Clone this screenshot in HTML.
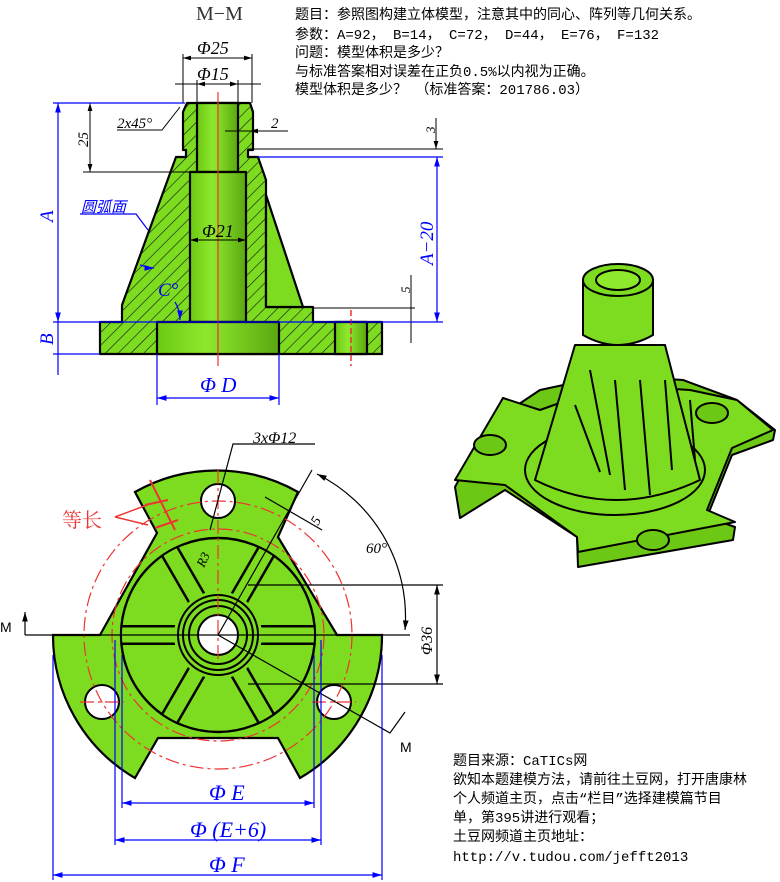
<!DOCTYPE html>
<html><head><meta charset="utf-8"><style>
html,body{margin:0;padding:0;background:#fff;width:780px;height:882px;overflow:hidden}
svg{display:block}
.t{font-family:"Liberation Mono","WenQuanYi Zen Hei","Noto Sans CJK SC",monospace;font-size:14px;fill:#000}
.d{font-family:"Liberation Serif",serif;font-style:italic}
</style></head><body>
<svg width="780" height="882" viewBox="0 0 780 882" xmlns="http://www.w3.org/2000/svg">
<defs>
<pattern id="h" width="9" height="9" patternUnits="userSpaceOnUse" patternTransform="rotate(45)">
<rect width="9" height="9" fill="#7ddc1f"/><line x1="0" y1="0" x2="0" y2="9" stroke="#111" stroke-width="1.2"/>
</pattern>
<linearGradient id="g" x1="0" x2="1"><stop offset="0" stop-color="#6cc814"/><stop offset=".4" stop-color="#8ee82c"/><stop offset="1" stop-color="#5aa810"/></linearGradient>
<marker id="a" viewBox="0 0 10 10" refX="10" refY="5" markerWidth="8" markerHeight="8" orient="auto-start-reverse"><path d="M0,2L10,5L0,8z" fill="#00f"/></marker>
<marker id="k" viewBox="0 0 10 10" refX="10" refY="5" markerWidth="8" markerHeight="8" orient="auto-start-reverse"><path d="M0,2L10,5L0,8z" fill="#000"/></marker>
<clipPath id="ic"><circle cx="218" cy="635" r="96"/></clipPath>
</defs>

<text class="t" x="295" y="19">题目：参照图构建立体模型，注意其中的同心、阵列等几何关系。</text>
<text class="t" x="295" y="39">参数：A=92， B=14， C=72， D=44， E=76， F=132</text>
<text class="t" x="295" y="57">问题：模型体积是多少？</text>
<text class="t" x="295" y="76">与标准答案相对误差在正负0.5%以内视为正确。</text>
<text class="t" x="295" y="94">模型体积是多少？ （标准答案：201786.03）</text>

<text x="196" y="20" font-family="Liberation Serif,serif" font-size="20" fill="#333">M−M</text>

<!-- Section view -->
<g stroke="#000" stroke-width="2.2" stroke-linejoin="round">
<path d="M187,103 L250,103 L253,112 L253,150 L248,150 L248,157 L258,157 L266,180 L266,307 L313,307 L313,322 L382,322 L382,354 L100,354 L100,322 L122,322 L122,305 L176,157 L186,157 L186,150 L183,150 L183,112 Z" fill="url(#h)"/>
<path d="M266,195 L303,307 L266,307 Z" fill="#7ddc1f"/>
<rect x="197" y="103" width="41" height="69" fill="url(#g)"/>
<rect x="190" y="172" width="56" height="150" fill="url(#g)"/>
<rect x="157" y="322" width="122" height="32" fill="url(#g)"/>
<rect x="335" y="322" width="32" height="32" fill="url(#g)"/>
</g>
<line x1="218" y1="92" x2="218" y2="366" stroke="#e33" stroke-width="1.2"/>
<line x1="351" y1="310" x2="351" y2="366" stroke="#e33" stroke-width="1.5" stroke-dasharray="6,3"/>
<g stroke="#000" stroke-width="1" fill="none">
<line x1="183" y1="54" x2="183" y2="103"/><line x1="252" y1="54" x2="252" y2="103"/>
<line x1="183" y1="58" x2="252" y2="58" marker-start="url(#k)" marker-end="url(#k)"/>
<line x1="175" y1="84" x2="261" y2="84"/>
<line x1="197" y1="80" x2="197" y2="103"/><line x1="238" y1="80" x2="238" y2="103"/>
<line x1="197" y1="84" x2="238" y2="84" marker-start="url(#k)" marker-end="url(#k)"/>
<line x1="83" y1="172" x2="190" y2="172"/>
<line x1="90" y1="103" x2="90" y2="172" marker-start="url(#k)" marker-end="url(#k)"/>
<path d="M117,130 L162,130 L180,107"/>
<line x1="225" y1="131" x2="288" y2="131"/><line x1="250" y1="131" x2="270" y2="131" marker-start="url(#k)"/>
<line x1="248" y1="149" x2="443" y2="149"/>
<line x1="436" y1="118" x2="436" y2="149" marker-end="url(#k)"/>
<line x1="313" y1="308" x2="415" y2="308"/>
<line x1="411" y1="275" x2="411" y2="343"/>
<line x1="190" y1="240" x2="246" y2="240" marker-start="url(#k)" marker-end="url(#k)"/>
</g>
<g class="d" font-size="18" fill="#000">
<text x="197" y="54">Φ25</text><text x="197" y="80">Φ15</text>
<text x="117" y="128" font-size="15">2x45°</text>
<text x="271" y="128" font-size="15">2</text>
<text x="202" y="237">Φ21</text>
<text transform="translate(88,147) rotate(-90)" font-size="15">25</text>
<text transform="translate(435,133) rotate(-90)" font-size="13">3</text>
<text transform="translate(410,293) rotate(-90)" font-size="13">5</text>
</g>
<g stroke="#00f" stroke-width="1.2" fill="none">
<line x1="53" y1="103" x2="185" y2="103"/>
<line x1="58" y1="103" x2="58" y2="322" marker-start="url(#a)" marker-end="url(#a)"/>
<line x1="53" y1="322" x2="443" y2="322"/>
<line x1="53" y1="354" x2="100" y2="354"/>
<line x1="58" y1="322" x2="58" y2="375"/>
<line x1="258" y1="157" x2="443" y2="157"/>
<line x1="437" y1="157" x2="437" y2="322" marker-start="url(#a)" marker-end="url(#a)"/>
<line x1="157" y1="354" x2="157" y2="405"/><line x1="279" y1="354" x2="279" y2="405"/>
<line x1="157" y1="398" x2="279" y2="398" marker-start="url(#a)" marker-end="url(#a)"/>
<path d="M80,214 L136,214 L148,230"/>
<path d="M140,265 Q150,268 154,268" marker-end="url(#a)"/>
<path d="M175,302 Q180,310 180,320" marker-end="url(#a)"/>
</g>
<g class="d" fill="#00f">
<text transform="translate(53,222) rotate(-90)" font-size="19">A</text>
<text transform="translate(53,345) rotate(-90)" font-size="19">B</text>
<text transform="translate(433,265) rotate(-90)" font-size="19">A−20</text>
<text x="200" y="392" font-size="21">Φ D</text>
<text x="158" y="296" font-size="19">C°</text>
<text x="81" y="212" font-size="15" font-family="'Noto Sans CJK SC',sans-serif" font-style="italic">圆弧面</text>
</g>

<!-- Plan view -->
<path d="M53,635 L100,635 L157,533 L135,492 A165,165 0 0 1 298,492 L278,537 L337,635 L382,635 A165,165 0 0 1 300,778 L278,738 L158,738 L135,778 A165,165 0 0 1 53,635 Z" fill="#7ddc1f" stroke="#000" stroke-width="2.2"/>
<circle cx="218" cy="635" r="97" fill="#7ddc1f" stroke="#000" stroke-width="2.4"/>
<g clip-path="url(#ic)">
<g stroke="#000" stroke-width="20">
<line x1="100" y1="635" x2="336" y2="635"/>
<line x1="159" y1="533" x2="277" y2="737"/>
<line x1="277" y1="533" x2="159" y2="737"/>
</g>
<g stroke="#7ddc1f" stroke-width="15">
<line x1="100" y1="635" x2="336" y2="635"/>
<line x1="159" y1="533" x2="277" y2="737"/>
<line x1="277" y1="533" x2="159" y2="737"/>
</g>
</g>
<g stroke="#000" stroke-width="2" fill="#7ddc1f">
<circle cx="218" cy="635" r="44" stroke="none"/>
<circle cx="218" cy="635" r="40"/><circle cx="218" cy="635" r="35"/><circle cx="218" cy="635" r="29"/>
<circle cx="218" cy="635" r="20" fill="#fff"/>
<circle cx="218" cy="501" r="17" fill="#fff"/><circle cx="102" cy="702" r="17" fill="#fff"/><circle cx="334" cy="702" r="17" fill="#fff"/>
</g>
<g stroke="#e33" stroke-width="1.2" fill="none" stroke-dasharray="14,4,3,4">
<circle cx="218" cy="635" r="134"/><circle cx="218" cy="635" r="106"/>
<line x1="218" y1="470" x2="218" y2="660"/>
<line x1="80" y1="702" x2="124" y2="702"/><line x1="312" y1="702" x2="356" y2="702"/>
</g>
<path d="M150,480 L175,530 M145,505 L168,500 M155,528 L178,520" stroke="#e33" stroke-width="2" fill="none"/>
<path d="M115,517 L147,505 M115,517 L148,525" stroke="#e33" stroke-width="1.5"/>
<text x="62" y="527" font-family="'Noto Serif CJK SC',serif" font-size="20" fill="#e33">等长</text>
<g stroke="#000" stroke-width="1.2" fill="none">
<path d="M315,444 L233,444 L210,530"/>
<line x1="25" y1="635" x2="410" y2="635"/>
<line x1="25" y1="635" x2="25" y2="612" marker-end="url(#k)"/>
<path d="M218,635 L390,733 L405,712"/>
<line x1="218" y1="635" x2="312" y2="470"/>
<line x1="248" y1="585" x2="443" y2="585"/><line x1="248" y1="684" x2="443" y2="684"/>
<line x1="437" y1="585" x2="437" y2="684" marker-start="url(#k)" marker-end="url(#k)"/>
<path d="M317,474 A160,160 0 0 1 405,630" marker-start="url(#k)" marker-end="url(#k)"/>
<line x1="265" y1="497" x2="322" y2="530"/>
</g>
<g class="d" fill="#000">
<text x="253" y="443" font-size="16">3xΦ12</text>
<text x="366" y="553" font-size="15">60°</text>
<text transform="translate(318,526) rotate(-60)" font-size="14">5</text>
<text transform="translate(204,568) rotate(-65)" font-size="13">R3</text>
<text transform="translate(432,655) rotate(-90)" font-size="16">Φ36</text>
</g>
<text x="0" y="632" font-family="Liberation Sans,sans-serif" font-size="14">M</text>
<text x="400" y="752" font-family="Liberation Sans,sans-serif" font-size="14">M</text>
<g stroke="#00f" stroke-width="1.2" fill="none">
<line x1="122" y1="655" x2="122" y2="808"/><line x1="314" y1="655" x2="314" y2="808"/>
<line x1="122" y1="803" x2="314" y2="803" marker-start="url(#a)" marker-end="url(#a)"/>
<line x1="115" y1="640" x2="115" y2="845"/><line x1="321" y1="640" x2="321" y2="845"/>
<line x1="115" y1="840" x2="321" y2="840" marker-start="url(#a)" marker-end="url(#a)"/>
<line x1="53" y1="655" x2="53" y2="880"/><line x1="382" y1="655" x2="382" y2="880"/>
<line x1="53" y1="875" x2="382" y2="875" marker-start="url(#a)" marker-end="url(#a)"/>
</g>
<g class="d" fill="#00f" font-size="22">
<text x="209" y="800">Φ E</text><text x="190" y="837">Φ (E+6)</text><text x="209" y="872">Φ F</text>
</g>

<!-- 3D view -->
<g stroke="#000" stroke-width="2" stroke-linejoin="round" fill="#7ddc1f">
<path d="M455,487 L460,518 L505,490 L577,537 L578,567 L733,540 L735,527 L707,517 L732,455 L773,440 L775,430 L737,400 L683,380 L610,375 L540,390 L510,410 L503,398 Z" fill="#6cc814"/>
<path d="M455,480 L503,398 L540,410 L610,385 L690,390 L737,400 L773,430 L732,448 L707,510 L735,522 L578,552 L577,537 L505,485 Z"/>
<ellipse cx="615" cy="470" rx="90" ry="45" fill="#7ddc1f"/>
<path d="M535,480 L575,345 L665,345 L700,480 Q615,520 535,480 Z"/>
<path d="M575,405 L600,472 M590,370 L610,475 M615,380 L625,490 M640,380 L650,495 M665,380 L672,470 M690,400 L695,460" fill="none"/>
<path d="M583,280 L583,335 Q618,355 653,335 L653,280 Z" fill="#7ddc1f"/>
<ellipse cx="618" cy="280" rx="35" ry="16"/>
<ellipse cx="618" cy="280" rx="22" ry="10" fill="#8ee82c"/>
<ellipse cx="490" cy="445" rx="16" ry="10" fill="#6cc814"/>
<ellipse cx="712" cy="413" rx="16" ry="10" fill="#6cc814"/>
<ellipse cx="653" cy="540" rx="16" ry="10" fill="#6cc814"/>
</g>

<text class="t" x="453" y="765">题目来源：CaTICs网</text>
<text class="t" x="453" y="784">欲知本题建模方法，请前往土豆网，打开唐康林</text>
<text class="t" x="453" y="803">个人频道主页，点击“栏目”选择建模篇节目</text>
<text class="t" x="453" y="822">单，第395讲进行观看；</text>
<text class="t" x="453" y="841">土豆网频道主页地址：</text>
<text class="t" x="453" y="861">http://v.tudou.com/jefft2013</text>
</svg>
</body></html>
